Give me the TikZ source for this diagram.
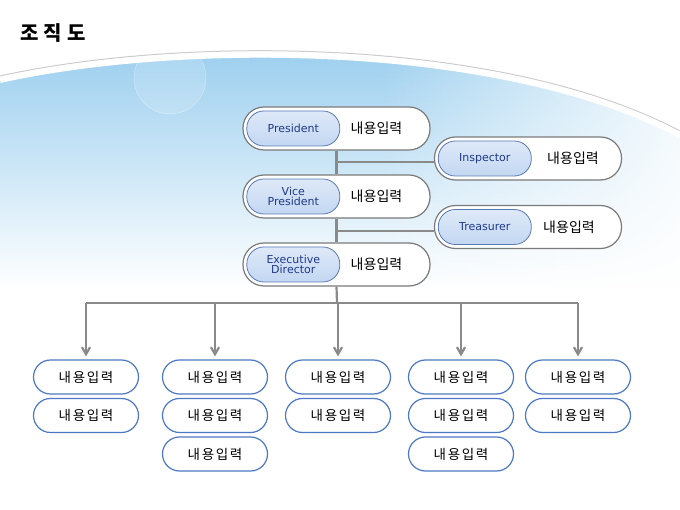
\documentclass[tikz,border=0pt]{standalone}
\usepackage{fontspec}
\setmainfont{Noto Sans CJK KR}
\newfontfamily\krfont{Noto Sans CJK KR}
\newfontfamily\krwide[LetterSpace=12]{Noto Sans CJK KR}
\newfontfamily\enfont{DejaVu Sans}
\usetikzlibrary{arrows,fadings}

\definecolor{linegray}{HTML}{8A8A8A}
\definecolor{pillblue}{HTML}{C3D7F2}
\definecolor{pilledge}{HTML}{5A7AB5}
\definecolor{navy}{HTML}{1F3A8A}
\definecolor{unitedge}{HTML}{4D79C4}
\definecolor{skyblue}{HTML}{98CDEE}
\definecolor{postedge}{HTML}{7A7A7A}

\begin{document}
\begin{tikzpicture}[x=1pt,y=-1pt,node distance=38.5pt,
    postbox/.style={draw=postedge,line width=1.2pt,fill=white,rounded corners=21pt,minimum width=187pt,minimum height=43pt},
    rolepill/.style={draw=pilledge,line width=0.8pt,top color=pillblue!55,bottom color=pillblue,rounded corners=17pt,minimum width=93pt,minimum height=35pt,inner sep=0pt,anchor=west,align=center,text=navy,font=\enfont\fontsize{11}{10}\selectfont},
    postname/.style={font=\krfont\fontsize{14}{14}\selectfont},
    unitbox/.style={draw=unitedge,line width=1.2pt,fill=white,rounded corners=17pt,minimum width=105pt,minimum height=34pt,font=\krwide\fontsize{13.5}{13.5}\selectfont},
    link/.style={draw=linegray,line width=2.2pt},
    drop/.style={link,->,>=angle 60,shorten >=3pt}]
  \useasboundingbox (0,0) rectangle (680,510);
  % background
  \fill[white] (0,0) rectangle (680,510);
  \shade[top color=skyblue,middle color=skyblue!45,bottom color=white]
    (0,80) .. controls (180,40) and (500,40) .. (680,135) -- (680,290) -- (0,290) -- cycle;
  \fill[white,opacity=0.85,path fading=west] (380,50) rectangle (680,300);
  \fill[white,fill opacity=0.15,draw=white,draw opacity=0.45] (170,78) circle (36);
  \draw[black!20,line width=1pt] (0,76) .. controls (180,36) and (500,36) .. (680,131);
  \draw[white,line width=6pt] (0,80) .. controls (180,40) and (500,40) .. (680,135);

  \node[anchor=west,font=\krfont\bfseries\fontsize{20}{20}\selectfont] (title) at (17,33) {조\hspace{5pt}직\hspace{5pt}도};

  % top posts
  \node[postbox] (p) at (336.5,128.5) {};
  \node[postbox] (vp) at (336.5,196.5) {};
  \node[postbox] (ed) at (336.5,264.5) {};
  \node[postbox] (insp) at (528,158.5) {};
  \node[postbox] (tr) at (528,227) {};
  \node[rolepill] (pr) at ([xshift=4pt]p.west) {President};
  \node[rolepill] (vpr) at ([xshift=4pt]vp.west) {Vice\\President};
  \node[rolepill] (edr) at ([xshift=4pt]ed.west) {Executive\\Director};
  \node[rolepill] (inspr) at ([xshift=4pt]insp.west) {Inspector};
  \node[rolepill] (trr) at ([xshift=4pt]tr.west) {Treasurer};
  \node[postname] (pn) at ([xshift=40pt]p.center) {내용입력};
  \node[postname] (vpn) at ([xshift=40pt]vp.center) {내용입력};
  \node[postname] (edn) at ([xshift=40pt]ed.center) {내용입력};
  \node[postname] (inspn) at ([xshift=45pt]insp.center) {내용입력};
  \node[postname] (trn) at ([xshift=41pt]tr.center) {내용입력};

  % units
  \node[unitbox] (b11) at (86,377) {내용입력};
  \node[unitbox] (b12) [below of=b11] {내용입력};
  \node[unitbox] (b21) at (215,377) {내용입력};
  \node[unitbox] (b22) [below of=b21] {내용입력};
  \node[unitbox] (b23) [below of=b22] {내용입력};
  \node[unitbox] (b31) at (338,377) {내용입력};
  \node[unitbox] (b32) [below of=b31] {내용입력};
  \node[unitbox] (b41) at (461,377) {내용입력};
  \node[unitbox] (b42) [below of=b41] {내용입력};
  \node[unitbox] (b43) [below of=b42] {내용입력};
  \node[unitbox] (b51) at (578,377) {내용입력};
  \node[unitbox] (b52) [below of=b51] {내용입력};

  \coordinate (j1) at (337,162);
  \coordinate (j2) at (337,231);
  \coordinate (bus) at (337,303);
  \draw[link] (p.south) -- (vp.north);
  \draw[link] (vp.south) -- (ed.north);
  \draw[link] (ed.south) -- (bus);
  \draw[link] (j1) -- (insp.west |- j1);
  \draw[link] (j2) -- (tr.west |- j2);
  \draw[link] (b11 |- bus) -- (b51 |- bus);
  \draw[drop] (b11 |- bus) -- (b11);
  \draw[drop] (b21 |- bus) -- (b21);
  \draw[drop] (b31 |- bus) -- (b31);
  \draw[drop] (b41 |- bus) -- (b41);
  \draw[drop] (b51 |- bus) -- (b51);
\end{tikzpicture}
\end{document}
